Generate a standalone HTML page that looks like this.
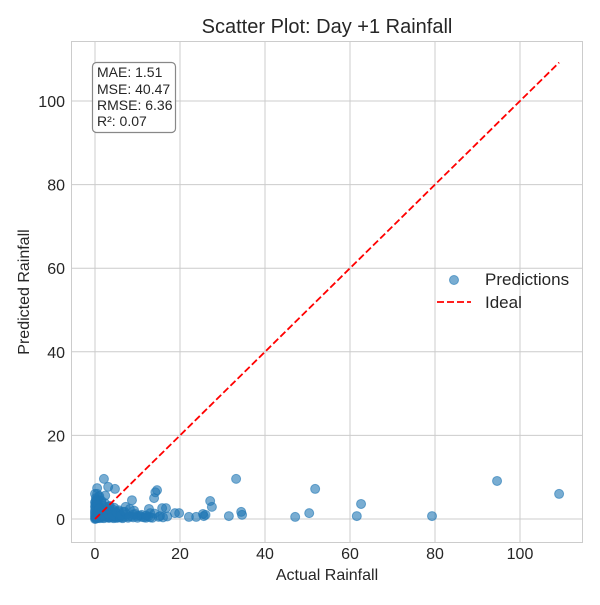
<!DOCTYPE html>
<html><head><meta charset="utf-8"><style>
body{margin:0;background:#fff;}
svg text{font-family:"Liberation Sans",Arial,sans-serif;fill:#262626;}
</style></head><body>
<svg id="chart" width="600" height="600" xmlns="http://www.w3.org/2000/svg">
<rect x="0" y="0" width="600" height="600" fill="#fff"/>
<g id="grid"></g>
<rect x="71.5" y="41.5" width="511" height="501" fill="none" stroke="#ccc" stroke-width="1"/>
<g id="pts"></g>
<line id="ideal" stroke="red" stroke-width="1.8" stroke-dasharray="7,3"/>
<text x="327" y="33" font-size="20" text-anchor="middle">Scatter Plot: Day +1 Rainfall</text>
<text x="327" y="580" font-size="16" text-anchor="middle">Actual Rainfall</text>
<text x="29" y="292" font-size="16" text-anchor="middle" transform="rotate(-90 29 292)">Predicted Rainfall</text>
<g id="ticks"></g>
<g>
<rect x="92.5" y="62.5" width="83" height="70" rx="4" fill="#fff" fill-opacity="0.85" stroke="#888" stroke-width="1.2"/>
<text x="97" y="77" font-size="14">MAE: 1.51</text>
<text x="97" y="94" font-size="14">MSE: 40.47</text>
<text x="97" y="110" font-size="14">RMSE: 6.36</text>
<text x="97" y="126" font-size="14">R²: 0.07</text>
</g>
<g>
<circle cx="454" cy="280" r="4.5" fill="#1f77b4" fill-opacity="0.6" stroke="#1f77b4" stroke-opacity="0.6"/>
<text x="485" y="285" font-size="17">Predictions</text>
<line x1="437" y1="302" x2="471" y2="302" stroke="red" stroke-width="1.8" stroke-dasharray="7,3"/>
<text x="485" y="308" font-size="17">Ideal</text>
</g>
</svg>
<script>
const xTicks=[0,20,40,60,80,100];
const yTicks=[0,20,40,60,80,100];
const actual=[94.6,109.2,79.3,62.6,61.6,51.8,50.4,47.1,33.2,34.4,34.6,31.5,27.5,27.1,25.6,26,25.4,23.8,22.1,19.8,18.8,16.7,14.6,13.9,14.2,15.8,15.3,12.7,13,8.7,2.1,3.1,4.7,0.5,
0,0,0,0,0,0,0,0,0.1,0.1,0.2,0.2,0.3,0.3,0.4,0.5,0.5,0.6,0.7,0.8,0.9,1,1,1.1,1.2,1.3,1.5,1.6,1.8,2,2.2,2.4,2.6,2.8,3,3.2,3.5,3.8,4,4.2,4.5,4.8,5,5.3,5.6,6,6.3,6.6,7,7.4,7.8,8.2,8.6,9,9.5,10,10.5,11,11.5,12,12.5,13,13.5,14,15,16,17,0.2,0.4,0.6,0.8,1.1,1.4,1.7,2.1,2.5,2.9,3.4,3.9,4.4,5,5.8,6.5,0.3,0.9,1.5,2.3,3.3,4.3,5.5,7.2,9.2,
0.1,0.2,0.3,0.5,0.7,1,1.3,1.8,2.4,3,3.6,4.2,5,6,7,8,9,10,11,12];
const predicted=[9.1,6.0,0.7,3.6,0.7,7.2,1.4,0.5,9.6,1.7,1.0,0.7,2.9,4.3,0.7,1.0,1.2,0.5,0.5,1.4,1.4,2.6,6.9,5.0,6.4,2.6,0.7,2.4,1.4,4.5,9.6,7.7,7.2,7.4,
0,0.5,1,1.5,2,3,4,6,0.2,2.5,0.4,5,1.2,3.5,0.3,6,2,0.8,4.5,1.5,0.5,3,5.5,1,2.2,0.4,4,1.6,0.7,3.2,1.1,5.6,0.5,2.4,1.2,0.3,3.1,0.9,1.8,0.4,2.7,0.6,1.4,0.3,2.1,0.8,0.4,1.7,0.5,1.1,0.3,2.4,0.6,0.4,1.2,0.3,0.8,0.5,0.4,0.3,0.6,0.4,0.3,1.3,0.5,0.4,0.6,
0.1,0.3,0.2,0.4,0.2,0.6,0.3,0.2,0.8,0.4,0.3,0.5,0.2,0.3,0.4,0.2,4.6,5.2,4.4,3.8,3.0,2.2,1.8,2.9,2.0,
3.5,4.2,2.8,3.6,1.9,2.6,1.5,0.9,1.9,1.2,2.0,0.9,1.6,1.0,1.7,0.6,1.1,0.7,1.0,0.8];
const NS="http://www.w3.org/2000/svg";
const X0=95,XS=4.25,Y0=519,YS=4.18;
function sx(v){return X0+v*XS;}
function sy(v){return Y0-v*YS;}
const grid=document.getElementById('grid'),ticks=document.getElementById('ticks'),pts=document.getElementById('pts');
xTicks.forEach(t=>{
  const l=document.createElementNS(NS,'line');
  l.setAttribute('x1',sx(t));l.setAttribute('x2',sx(t));l.setAttribute('y1',41.5);l.setAttribute('y2',542.5);
  l.setAttribute('stroke','#ccc');
  
  
  grid.appendChild(l);
  const tx=document.createElementNS(NS,'text');
  tx.setAttribute('x',sx(t));tx.setAttribute('y',559);tx.setAttribute('font-size','16');tx.setAttribute('text-anchor','middle');
  tx.textContent=t;
  
  
  ticks.appendChild(tx);
});
yTicks.forEach(t=>{
  const l=document.createElementNS(NS,'line');
  l.setAttribute('y1',sy(t));l.setAttribute('y2',sy(t));l.setAttribute('x1',71.5);l.setAttribute('x2',582.5);
  l.setAttribute('stroke','#ccc');
  
  
  grid.appendChild(l);
  const tx=document.createElementNS(NS,'text');
  tx.setAttribute('x',65);tx.setAttribute('y',sy(t)+6);tx.setAttribute('font-size','16');tx.setAttribute('text-anchor','end');
  tx.textContent=t;
  
  
  ticks.appendChild(tx);
});
actual.forEach((a,i)=>{
  const c=document.createElementNS(NS,'circle');
  c.setAttribute('cx',sx(a));c.setAttribute('cy',sy(predicted[i]));c.setAttribute('r',4.5);
  c.setAttribute('fill','#1f77b4');c.setAttribute('fill-opacity','0.6');
  c.setAttribute('stroke','#1f77b4');c.setAttribute('stroke-opacity','0.6');
  
  
  pts.appendChild(c);
});
const mx=Math.max(...actual);
const id=document.getElementById('ideal');
id.setAttribute('x1',sx(0));id.setAttribute('y1',sy(0));id.setAttribute('x2',sx(mx));id.setAttribute('y2',sy(mx));
</script>
</body></html>
